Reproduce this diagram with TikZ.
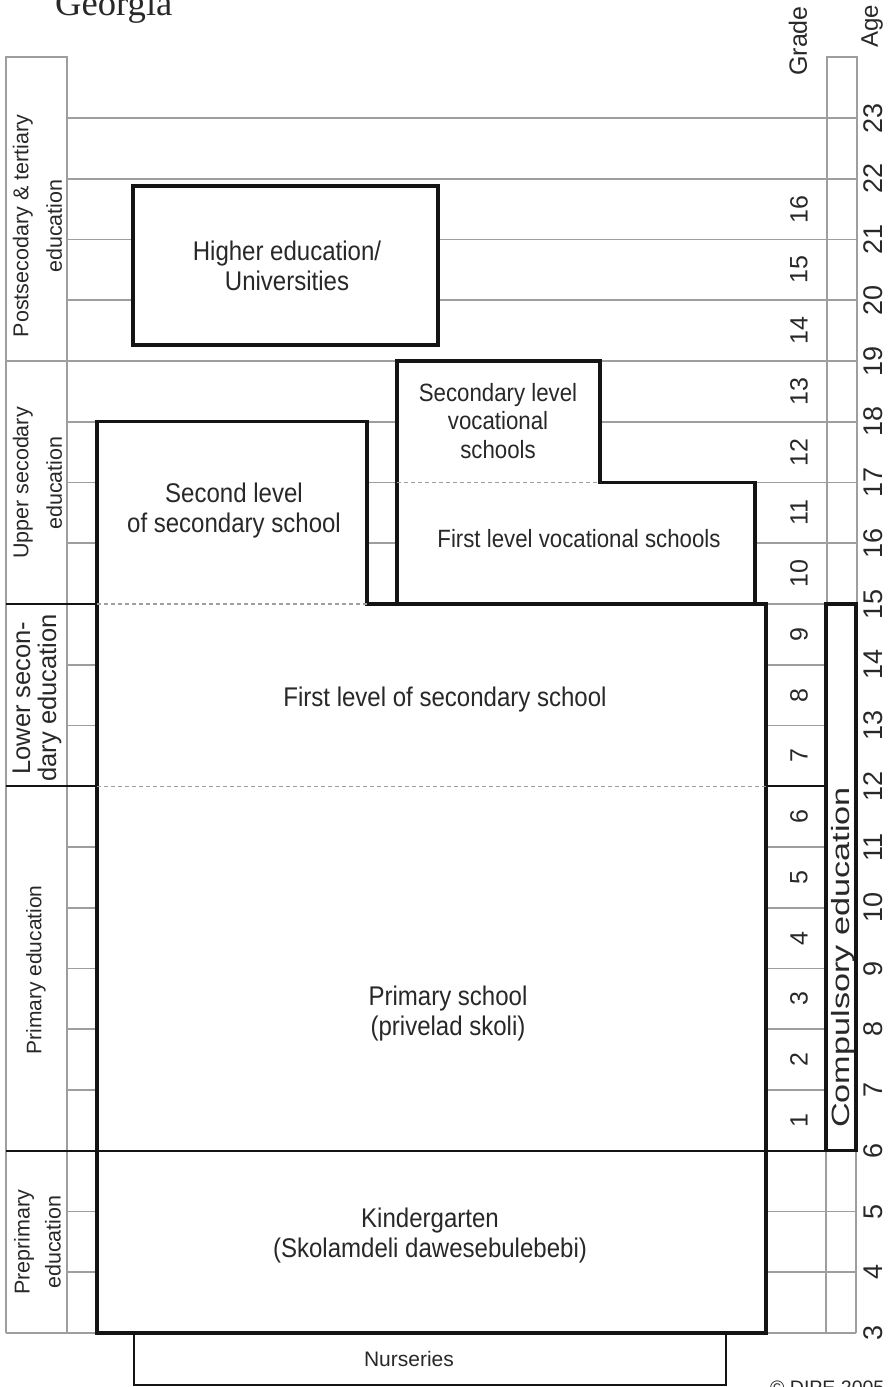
\documentclass[tikz,border=0pt]{standalone}
\usepackage{fontspec}
\setmainfont{Liberation Sans}
\newfontfamily\narrowsans[FakeStretch=0.89]{Liberation Sans}
\newfontfamily\widesans[FakeStretch=1.37]{Liberation Sans}
\newfontfamily\titleserif{Liberation Serif}
\newcommand{\fsz}[2]{\fontsize{#1}{#2}\selectfont}

\definecolor{gridgray}{RGB}{158,158,158}
\definecolor{boxblack}{RGB}{20,20,20}
\definecolor{textcol}{RGB}{40,40,40}

\tikzset{
  gridline/.style={draw=gridgray, line width=1.8pt},
  darkline/.style={draw=boxblack, line width=1.8pt},
  thickline/.style={draw=boxblack, line width=3.2pt, line join=miter},
  boxline/.style={thickline, fill=white},
  nurseline/.style={draw=boxblack, line width=2.2pt},
  dashline/.style={draw=gridgray, line width=1.3pt, dash pattern=on 4pt off 3pt},
  lbl/.style={text=textcol, inner sep=0pt, align=center},
  hlbl/.style={lbl, font=\narrowsans\fsz{27}{30}},
  vlbl/.style={lbl, rotate=90},
  gradelbl/.style={lbl, rotate=90, font=\fsz{25}{28}},
  agelbl/.style={lbl, rotate=90, font=\fsz{27}{30}},
}

\begin{document}
\begin{tikzpicture}[x=1pt, y=-1pt, declare function={ay(\a)=1333-60.75*(\a-3);}]
\path[use as bounding box, clip] (0,0) rectangle (891,1387);

% age grid lines
\foreach \a in {4,5,7,8,9,10,11,13,14,16,17,18,20,21,22,23}
  \draw[gridline] (67,{ay(\a)}) -- (857,{ay(\a)});
\draw[gridline] (6,{ay(19)}) -- (857,{ay(19)});

% left column of levels
\draw[gridline] (6,{ay(3)}) -- (6,{ay(24)}) -- (67,{ay(24)}) -- (67,{ay(3)});
\draw[gridline] (6,{ay(3)}) -- (97,{ay(3)});

% right column (grade / compulsory / age)
\draw[gridline] (827,{ay(15)}) -- (827,{ay(24)}) -- (857,{ay(24)}) -- (857,{ay(15)});
\draw[gridline] (766,{ay(15)}) -- (857,{ay(15)});
\draw[gridline] (826,{ay(6)}) -- (826,{ay(3)});
\draw[gridline] (856,{ay(6)}) -- (856,{ay(3)});
\draw[gridline] (766,{ay(3)}) -- (856,{ay(3)});

% level boundaries
\draw[darkline] (6,{ay(15)}) -- (97,{ay(15)});
\draw[darkline] (6,{ay(12)}) -- (97,{ay(12)});
\draw[darkline] (766,{ay(12)}) -- (826,{ay(12)});

% nurseries
\draw[nurseline] (134,{ay(3)}) rectangle (726,1385);

% school blocks
\draw[boxline] (97,{ay(3)}) -- (97,{ay(18)}) -- (367,{ay(18)}) -- (367,{ay(15)})
  -- (397,{ay(15)}) -- (397,{ay(19)}) -- (600,{ay(19)}) -- (600,{ay(17)})
  -- (755,{ay(17)}) -- (755,{ay(15)}) -- (766,{ay(15)}) -- (766,{ay(3)}) -- cycle;
\draw[thickline] (397,{ay(15)}) -- (755,{ay(15)});
\draw[boxline] (133,186) rectangle (438,345);
\draw[boxline] (826,{ay(15)}) rectangle (856,{ay(6)});
\draw[darkline] (6,{ay(6)}) -- (826,{ay(6)});

% internal divisions
\draw[dashline] (97,{ay(15)}) -- (367,{ay(15)});
\draw[dashline] (97,{ay(12)}) -- (766,{ay(12)});
\draw[dashline] (397,{ay(17)}) -- (600,{ay(17)});

% block labels
\node[hlbl] (higher) at (287,266) {Higher education/\\Universities};
\node[hlbl] (secondlevel) at (234,511) {Second level\\of secondary school};
\node[hlbl, font=\narrowsans\fsz{25}{28.5}] (secvoc) at (498,421) {Secondary level\\vocational\\schools};
\node[hlbl, font=\narrowsans\fsz{25}{28}] (firstvoc) at (579,539) {First level vocational schools};
\node[hlbl] (firstlevel) at (445,700) {First level of secondary school};
\node[hlbl] (primary) at (448,1014) {Primary school\\(privelad skoli)};
\node[hlbl] (kinder) at (430,1235) {Kindergarten\\(Skolamdeli dawesebulebebi)};
\node[lbl, font=\fsz{21}{24}] (nurseries) at (409,1359) {Nurseries};

% level labels
\node[vlbl, font=\fsz{21.5}{33.5}] (tertiary) at (37.5,226) {Postsecodary \& tertiary\\education};
\node[vlbl, font=\fsz{21.5}{33.5}] (upper) at (37.5,483) {Upper secodary\\education};
\node[vlbl, font=\fsz{25.5}{26}] (lower) at (37,698) {Lower secon-\\dary education};
\node[vlbl, font=\fsz{21}{24}] (primaryed) at (36,970) {Primary education};
\node[vlbl, font=\fsz{21.5}{31}] (preprimary) at (37.5,1242) {Preprimary\\education};

% compulsory education
\node[vlbl, font=\widesans\fsz{25}{28}] (compulsory) at (843.5,957.5) {Compulsory education};

% grade and age scales
\node[vlbl, font=\fsz{25}{28}] (gradehead) at (798,41) {Grade};
\node[vlbl, font=\fsz{24}{27}] (agehead) at (872,26) {Age};
\foreach \g in {1,...,16}
  \node[gradelbl] (g\g) at (799,{ay(\g+5.5)}) {\g};
\foreach \a in {3,...,23}
  \node[agelbl] (a\a) at (873,{ay(\a)}) {\a};

% title and credit
\node[anchor=base west, inner sep=0pt, font=\titleserif\fsz{36.6}{40}, text=textcol] (title) at (55,15) {Georgia};
\node[anchor=base west, inner sep=0pt, font=\fsz{19.5}{22}, text=textcol] (credit) at (770,1394) {© DIPE 2005};
\end{tikzpicture}
\end{document}
